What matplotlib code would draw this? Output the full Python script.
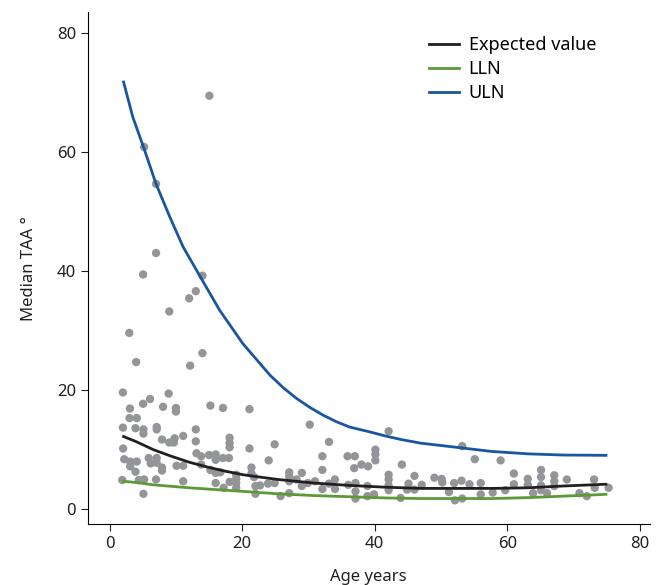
import matplotlib
matplotlib.use("Agg")
import matplotlib.pyplot as plt

plt.rcParams['font.family'] = ['Noto Sans', 'DejaVu Sans']

# curves (age, value)
uln_age = [2.1, 3.5, 5.2, 7.0, 9.1, 11.1, 14.0, 16.6, 20.1, 24.2, 26.2, 28.2, 30.2,
           32.2, 34.2, 36.2, 39.2, 41.6, 44.0, 46.9, 52.3, 57.7, 63.1, 68.4, 74.9]
uln = [71.7, 65.8, 60.5, 54.6, 49.0, 44.0, 38.4, 33.4, 27.8, 22.5, 20.4, 18.6, 17.1,
       15.8, 14.7, 13.8, 13.0, 12.3, 11.7, 11.1, 10.4, 9.7, 9.3, 9.1, 9.05]

curve_age = [2.1, 3.9, 6.6, 9.3, 12.0, 14.7, 17.4, 20.1, 22.7, 25.4, 28.1, 30.8,
             33.5, 36.2, 38.9, 41.6, 46.9, 52.3, 57.7, 63.1, 68.4, 74.9]
expected = [12.2, 11.4, 10.0, 8.9, 7.9, 7.1, 6.4, 5.8, 5.4, 5.0, 4.7, 4.4,
            4.2, 4.0, 3.85, 3.7, 3.5, 3.5, 3.5, 3.6, 3.9, 4.2]
lln = [4.7, 4.5, 4.1, 3.85, 3.6, 3.4, 3.2, 3.0, 2.8, 2.6, 2.45, 2.3,
       2.2, 2.1, 2.0, 1.9, 1.8, 1.8, 1.8, 1.95, 2.2, 2.5]

# individual measurements
pt_age = [15.05, 5.2, 7.0, 7.0, 5.05, 14.0, 13.0, 12.0, 9.0, 2.96, 4.0, 12.15, 14.0,
          2.0, 8.9, 6.1, 5.05, 3.06, 8.06, 10.0, 10.0, 15.2, 17.1, 21.1, 3.0, 4.1,
          2.0, 3.9, 5.1, 5.1, 7.1, 7.1, 13.0, 30.2, 42.1, 53.2, 33.1, 24.9,
          18.1, 18.1, 18.1, 11.1, 9.8, 9.0, 9.7, 7.9, 13.0, 2.04, 21.1,
          40.1, 40.1, 40.1, 24.0, 32.1, 35.9, 37.0, 36.9, 38.0, 39.0, 44.1,
          55.1, 59.0, 61.0, 65.1, 65.1, 67.1, 67.1, 69.0, 73.1, 75.3, 73.2,
          70.9, 72.0, 63.1, 63.1, 65.1, 65.1, 67.1, 66.0, 63.9, 61.0, 59.7,
          57.8, 56.0, 56.0, 54.3, 53.1, 53.2, 52.0, 52.1, 50.1, 50.2, 49.0,
          51.2, 47.1, 46.0, 46.0, 45.1, 44.9, 43.9, 42.1, 42.1, 42.1, 42.1,
          39.9, 38.9, 38.9, 37.1, 37.1, 37.1, 36.0, 34.0, 34.0, 33.1, 32.1,
          32.1, 31.0, 29.9, 29.0, 29.0, 28.2, 27.1, 27.1, 27.1, 27.1, 25.8,
          24.9, 23.9, 22.7, 22.0, 22.0, 21.4, 21.4, 21.8, 19.1, 19.1, 19.1,
          19.1, 18.1, 17.2, 16.7, 16.0, 16.0, 15.0, 16.0, 16.0, 17.1, 18.0,
          13.8, 13.8, 13.1, 15.2, 11.1, 10.1, 11.1, 7.9, 7.9, 7.1, 7.1, 6.2,
          5.9, 7.0, 5.2, 4.4, 4.1, 3.1, 3.1, 2.2, 3.9, 1.9, 5.1]
pt_val = [69.4, 60.8, 54.6, 43.0, 39.4, 39.2, 36.6, 35.4, 33.2, 29.6, 24.7, 24.1, 26.2,
          19.6, 19.4, 18.5, 17.7, 16.9, 17.2, 17.0, 16.4, 17.4, 17.0, 16.8, 15.3, 15.3,
          13.7, 13.6, 13.4, 12.7, 13.8, 13.4, 13.4, 14.2, 13.1, 10.6, 11.3, 10.9,
          12.0, 11.1, 10.4, 12.3, 11.9, 11.2, 11.2, 11.7, 11.4, 10.2, 10.2,
          10.0, 9.2, 8.2, 8.2, 8.9, 8.9, 8.9, 6.9, 7.5, 7.2, 7.5,
          8.4, 8.2, 6.0, 6.6, 5.4, 5.7, 4.7, 5.0, 5.0, 3.6, 3.6,
          2.7, 2.2, 5.1, 4.1, 4.0, 3.2, 3.9, 2.7, 2.7, 4.2, 3.2,
          2.8, 4.4, 2.5, 4.2, 4.8, 1.8, 4.4, 1.5, 5.1, 4.5, 5.3,
          2.9, 4.1, 5.6, 3.3, 4.3, 3.3, 1.9, 5.8, 5.0, 4.0, 3.2,
          2.5, 3.9, 2.2, 4.4, 3.0, 1.8, 4.1, 5.0, 3.4, 4.3, 6.6,
          3.4, 4.7, 4.4, 6.1, 3.9, 5.0, 6.2, 5.5, 4.7, 2.7, 2.2,
          4.4, 4.3, 4.0, 3.9, 2.6, 7.0, 6.0, 5.4, 5.8, 5.1, 4.4,
          3.6, 4.6, 3.6, 6.2, 6.1, 4.4, 9.1, 9.2, 8.3, 8.6, 8.6,
          8.9, 7.5, 9.4, 6.6, 7.3, 7.3, 4.7, 7.0, 6.5, 8.6, 7.8, 7.7,
          8.6, 5.0, 5.0, 4.9, 8.0, 8.0, 7.2, 8.4, 6.3, 4.9, 2.6]

fig = plt.figure(figsize=(6.65, 5.85), dpi=100)
ax = fig.add_axes([0.132, 0.104, 0.845, 0.875])

ax.scatter(pt_age, pt_val, s=36, color='#939598', edgecolors='none', zorder=2)
ax.plot(curve_age, expected, color='#231f20', lw=2.0, label='Expected value', zorder=3)
ax.plot(curve_age, lln, color='#5c9a38', lw=2.0, label='LLN', zorder=3)
ax.plot(uln_age, uln, color='#1a55a0', lw=2.0, label='ULN', zorder=3)

ax.set_xlim(-3.3, 81.5)
ax.set_ylim(-2.5, 83.4)
ax.set_xticks([0, 20, 40, 60, 80])
ax.set_yticks([0, 20, 40, 60, 80])
ax.spines['top'].set_visible(False)
ax.spines['right'].set_visible(False)
ax.tick_params(labelsize=12, length=5, color='#231f20', labelcolor='#231f20')
ax.set_xlabel('Age years', fontsize=12, color='#231f20', labelpad=12)
ax.set_ylabel('Median TAA °', fontsize=12, color='#231f20', labelpad=14)

ax.legend(loc='upper left', bbox_to_anchor=(0.645, 0.938), bbox_transform=fig.transFigure,
          frameon=False, fontsize=13, handlelength=1.65, labelspacing=0.33,
          handletextpad=0.55, borderpad=0, borderaxespad=0)

fig.savefig('out.png', dpi=100)
